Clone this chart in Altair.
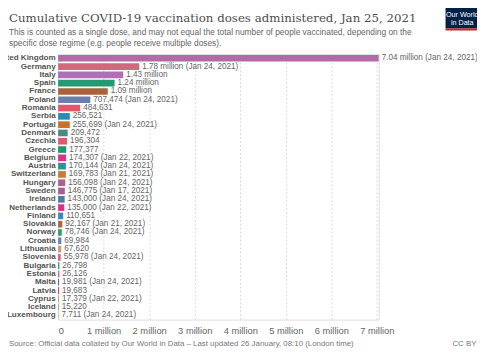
import altair as alt
import pandas as pd

countries = ["United Kingdom", "Germany", "Italy", "Spain", "France", "Poland", "Romania",
             "Serbia", "Portugal", "Denmark", "Czechia", "Greece", "Belgium", "Austria",
             "Switzerland", "Hungary", "Sweden", "Ireland", "Netherlands", "Finland",
             "Slovakia", "Norway", "Croatia", "Lithuania", "Slovenia", "Bulgaria", "Estonia",
             "Malta", "Latvia", "Cyprus", "Iceland", "Luxembourg"]
doses = [7040000, 1780000, 1430000, 1240000, 1090000, 707474, 484631,
         256521, 255699, 209472, 196304, 177377, 174307, 170144,
         169783, 156098, 146775, 143000, 135000, 110651,
         92167, 78746, 69984, 67620, 55978, 26798, 26126,
         19981, 19683, 17379, 15220, 7711]
labels = ["7.04 million (Jan 24, 2021)", "1.78 million (Jan 24, 2021)", "1.43 million",
          "1.24 million", "1.09 million", "707,474 (Jan 24, 2021)", "484,631",
          "256,521", "255,699 (Jan 24, 2021)", "209,472", "196,304", "177,377",
          "174,307 (Jan 22, 2021)", "170,144 (Jan 24, 2021)", "169,783 (Jan 21, 2021)",
          "156,098 (Jan 24, 2021)", "146,775 (Jan 17, 2021)", "143,000 (Jan 24, 2021)",
          "135,000 (Jan 22, 2021)", "110,651", "92,167 (Jan 21, 2021)",
          "78,746 (Jan 24, 2021)", "69,984", "67,620", "55,978 (Jan 24, 2021)",
          "26,798", "26,126", "19,981 (Jan 24, 2021)", "19,683",
          "17,379 (Jan 22, 2021)", "15,220", "7,711 (Jan 24, 2021)"]
colors = ["#b16ba8", "#cf6a7d", "#b06eb4", "#259a70", "#a8633a", "#6a7fb0", "#e0566a",
          "#2a8ab8", "#c8702e", "#4a8c80", "#e25a6c", "#1c9a6c", "#d6338a", "#22988f",
          "#c97b35", "#a8648f", "#a3628c", "#537a9e", "#dc2f88", "#2f8cbc",
          "#b0663b", "#2aa062", "#6a80b8", "#cf9d6a", "#d9607a", "#20a060", "#e0508a",
          "#4e6080", "#c8384f", "#d98a4a", "#c99060", "#a0a0a0"]
tick_values = [0, 1000000, 2000000, 3000000, 4000000, 5000000, 6000000, 7000000]

title_text = "Cumulative COVID-19 vaccination doses administered, Jan 25, 2021"
subtitle_lines = ["This is counted as a single dose, and may not equal the total number of people vaccinated, depending on the",
                  "specific dose regime (e.g. people receive multiple doses)."]
source_text = "Source: Official data collated by Our World in Data – Last updated 26 January, 08:10 (London time)"
license_text = "CC BY"
logo_lines = ["Our World", "in Data"]

df = pd.DataFrame({"country": countries, "doses": doses, "label": labels, "color": colors})

W, H = 326, 270
L, T = 51, 44

y_enc = alt.Y("country:N", sort=countries, title=None,
              scale=alt.Scale(paddingInner=0.2, paddingOuter=0.1),
              axis=alt.Axis(labelFont="Liberation Sans", labelFontWeight="bold", labelFontSize=8.2,
                            labelColor="#555555", labelPadding=3, ticks=False, domain=False,
                            grid=False))
x_enc = alt.X("doses:Q", title=None,
              scale=alt.Scale(domain=[0, 7040000], nice=False, zero=True),
              axis=alt.Axis(values=tick_values, labelFont="Liberation Sans", labelFontSize=9.5,
                            labelColor="#666666", labelPadding=6, ticks=False, domain=False,
                            grid=True, gridDash=[2, 2], gridColor="#d9d9d9",
                            labelExpr="datum.value == 0 ? '0' : format(datum.value / 1000000, 'd') + ' million'"))

bars = alt.Chart(df).mark_bar().encode(
    x=x_enc, y=y_enc,
    color=alt.Color("color:N", scale=None),
)
vals = alt.Chart(df).mark_text(align="left", baseline="middle", dx=3, font="Liberation Sans",
                               fontSize=8.3, color="#666666").encode(
    x="doses:Q", y=alt.Y("country:N", sort=countries), text="label:N")

def txt(s, x, y, size, color, font="Liberation Sans", align="left", weight="normal", baseline="middle"):
    return alt.Chart(pd.DataFrame({"t": [s]})).mark_text(
        align=align, baseline=baseline, font=font, fontSize=size, color=color, fontWeight=weight
    ).encode(x=alt.value(x), y=alt.value(y), text="t:N")

title = txt(title_text, -50, -33, 12, "#4d4d4d", font="DejaVu Serif", baseline="alphabetic")
sub1 = txt(subtitle_lines[0], -50, -22.5, 8.5, "#666666")
sub2 = txt(subtitle_lines[1], -50, -11.5, 8.5, "#666666")
source = txt(source_text, -50, 295, 8, "#777777")
lic = txt(license_text, 401, 295, 8, "#777777")

logo_df = pd.DataFrame({"a": [0]})
logo_box = alt.Chart(logo_df).mark_rect(color="#002147").encode(
    x=alt.value(394), x2=alt.value(430), y=alt.value(-47), y2=alt.value(-26))
logo_red = alt.Chart(logo_df).mark_rect(color="#ce261e").encode(
    x=alt.value(394), x2=alt.value(430), y=alt.value(-26), y2=alt.value(-24))
logo1 = txt(logo_lines[0], 411, -40, 7.3, "white", align="center")
logo2 = txt(logo_lines[1], 411, -32, 7.3, "white", align="center")

chart = alt.layer(bars, vals, title, sub1, sub2, source, lic, logo_box, logo_red, logo1, logo2).properties(
    width=W, height=H,
    autosize=alt.AutoSizeParams(type="none"),
    padding={"left": L, "top": T, "right": 477 - L - W, "bottom": 342 - T - H},
).configure_view(stroke=None).configure(background="white")

chart.save("out.html", embed_options={"renderer": "svg", "actions": False})
